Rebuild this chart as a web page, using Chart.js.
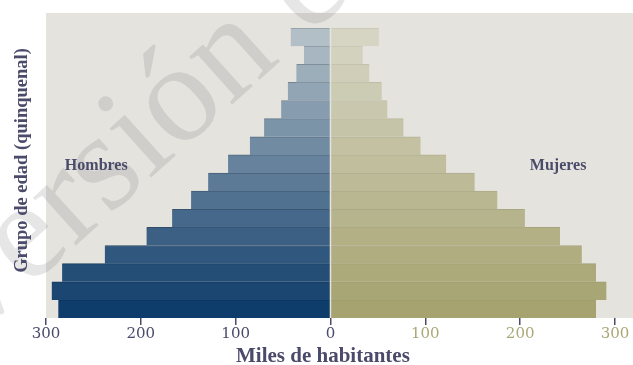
<!DOCTYPE html>
<html>
<head>
<meta charset="utf-8">
<script src="https://cdn.jsdelivr.net/npm/chart.js@4"></script>
<style>
  html, body { margin: 0; padding: 0; background: #ffffff; }
  #wrap { width: 633px; height: 365px; position: relative; }
</style>
</head>
<body>
<div id="wrap"><canvas id="c" width="633" height="365"></canvas></div>
<script>
// ---- Data ----
const ageGroups = ['0-4','5-9','10-14','15-19','20-24','25-29','30-34','35-39',
                   '40-44','45-49','50-54','55-59','60-64','65-69','70-74','75+'];
const hombres = [287, 294, 283, 238, 194, 167, 147, 129, 108, 85, 70, 52, 45, 36, 28, 42];
const mujeres = [280, 291, 280, 265, 242, 205, 176, 152, 122, 95, 77, 60, 54, 41, 34, 51];
const xTickValues = [-300, -200, -100, 0, 100, 200, 300];
const seriesNames = ['Hombres', 'Mujeres'];
const axisTitleX = 'Miles de habitantes';
const axisTitleY = 'Grupo de edad (quinquenal)';
const watermarkText = 'Versión en revisión';

// ---- Styles ----
const FONT = "'DejaVu Serif', 'Liberation Serif', serif";
const TFONT = "'Liberation Serif', 'DejaVu Serif', serif";
const TEXT = '#4a4a6a';
const OLIVE_TEXT = '#aaa877';
const PLOT_BG = '#e5e3de';

function hex(c){return [parseInt(c.slice(1,3),16),parseInt(c.slice(3,5),16),parseInt(c.slice(5,7),16)];}
function mix(a,b,t,dark){
  const A=hex(a),B=hex(b);
  const r=A.map((v,i)=>Math.round((v+(B[i]-v)*t)*(dark||1)));
  return 'rgb('+r.join(',')+')';
}
const n = ageGroups.length;
const menFill = ageGroups.map((_,i)=>mix('#0f3d6b','#b3bfc7',i/(n-1)));
const menLine = ageGroups.map((_,i)=>mix('#0f3d6b','#b3bfc7',i/(n-1),0.8));
const womenFill = ageGroups.map((_,i)=>mix('#a6a370','#d6d5c4',i/(n-1)));
const womenLine = ageGroups.map((_,i)=>mix('#a6a370','#d6d5c4',i/(n-1),0.93));

const bgPlugin = {
  id: 'bg',
  beforeDraw(chart){
    const {ctx, chartArea:a} = chart;
    ctx.save();
    ctx.fillStyle = '#ffffff';
    ctx.fillRect(0,0,chart.width,chart.height);
    ctx.fillStyle = PLOT_BG;
    ctx.fillRect(a.left, a.top-15, a.right-a.left, a.bottom-a.top+15);
    ctx.restore();
  },
  beforeDatasetsDraw(chart){
    const {ctx} = chart;
    ctx.save();
    ctx.translate(-36, 346);
    ctx.rotate(-42*Math.PI/180);
    ctx.font = "140px 'Liberation Serif', serif";
    ctx.fillStyle = 'rgba(100,100,100,0.16)';
    ctx.fillText(watermarkText, 0, 0);
    ctx.restore();
  },
  afterDatasetsDraw(chart){
    const {ctx, chartArea:a, scales:{x,y}} = chart;
    const p7 = y.getPixelForValue(7), p8 = y.getPixelForValue(8);
    const yMid = p7 + (p8 - p7) * 0.88;
    ctx.save();
    ctx.font = "bold 16px " + TFONT;
    ctx.fillStyle = TEXT;
    ctx.textAlign = 'center';
    ctx.textBaseline = 'middle';
    ctx.fillText(seriesNames[0], x.getPixelForValue(-247), yMid);
    ctx.fillText(seriesNames[1], x.getPixelForValue(240), yMid);
    // axis titles
    ctx.font = "bold 21px " + TFONT;
    ctx.textBaseline = 'alphabetic';
    ctx.fillText(axisTitleX, x.getPixelForValue(-8), chart.height - 3);
    ctx.translate(22, (a.top - 15 + a.bottom) / 2 - 5);
    ctx.rotate(-Math.PI/2);
    ctx.font = "bold 18.5px " + TFONT;
    ctx.textBaseline = 'middle';
    ctx.fillText(axisTitleY, 0, 0);
    ctx.restore();
  }
};

new Chart(document.getElementById('c'), {
  type: 'bar',
  data: {
    labels: ageGroups,
    datasets: [
      { label: seriesNames[0], data: hombres.map(v=>-v), backgroundColor: menFill,
        borderColor: menLine, borderWidth: {top:1, bottom:0, left:0, right:0}, borderSkipped: false },
      { label: seriesNames[1], data: mujeres, backgroundColor: womenFill,
        borderColor: womenLine, borderWidth: {top:1, bottom:0, left:0, right:0}, borderSkipped: false }
    ]
  },
  options: {
    indexAxis: 'y',
    responsive: false,
    animation: false,
    devicePixelRatio: 1,
    layout: { padding: { top: 28, right: 0, bottom: 0, left: 0 } },
    datasets: { bar: { barPercentage: 1, categoryPercentage: 1 } },
    plugins: { legend: { display: false }, tooltip: { enabled: false } },
    scales: {
      y: {
        type: 'category', stacked: true, reverse: true,
        grid: { display: false }, border: { display: false },
        ticks: { display: false },
        title: { display: false, text: axisTitleY },
        afterFit(s){ s.width = 46; }
      },
      x: {
        type: 'linear', stacked: true, min: -300, max: 319,
        afterBuildTicks(s){ s.ticks = xTickValues.map(v=>({value:v})); },
        grid: { drawOnChartArea: false, drawTicks: true, tickLength: 7, color: TEXT, lineWidth: 1.5 },
        border: { display: false },
        ticks: {
          padding: 0,
          font: { family: FONT, size: 15 },
          color: (c) => (c.tick && c.tick.value > 0) ? OLIVE_TEXT : TEXT,
          callback: (v) => Math.abs(v)
        },
        title: { display: false, text: axisTitleX },
        afterFit(s){ s.height = 47; }
      }
    }
  },
  plugins: [bgPlugin]
});
</script>
</body>
</html>
